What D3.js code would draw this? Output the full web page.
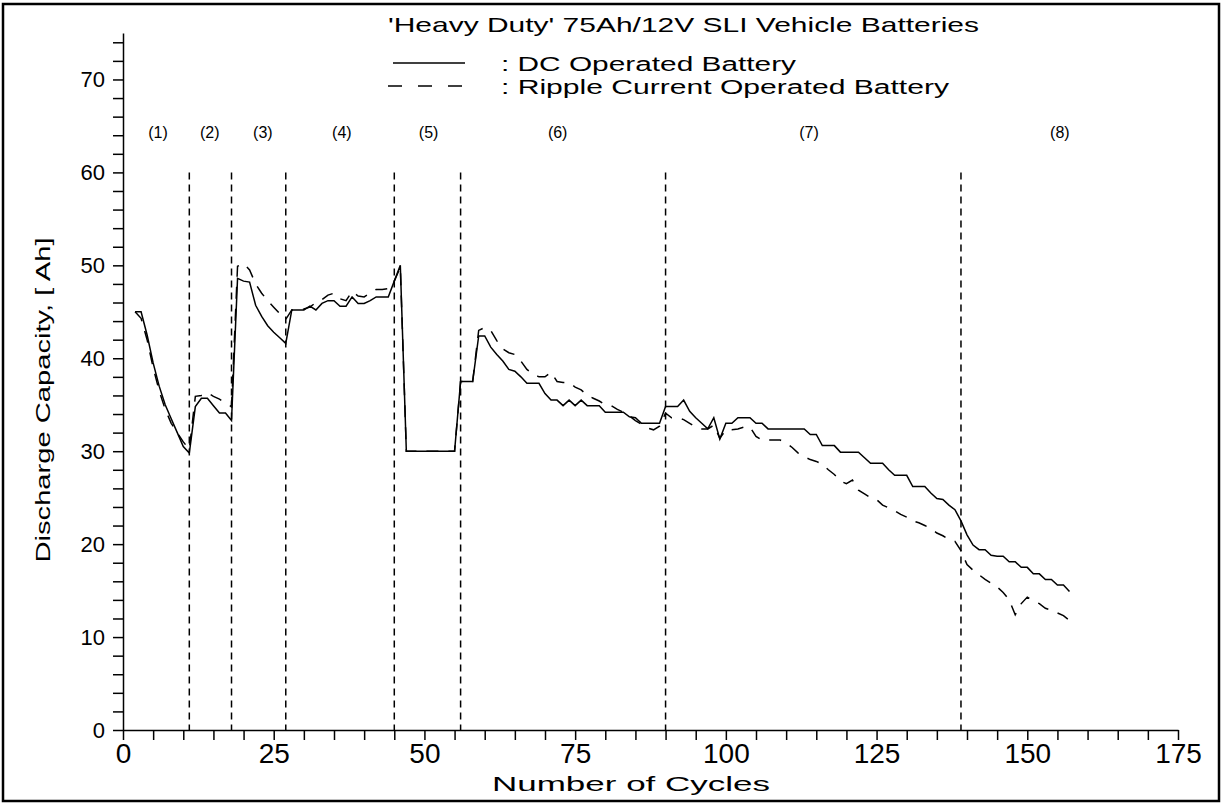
<!DOCTYPE html>
<html>
<head>
<meta charset="utf-8">
<script src="https://cdn.jsdelivr.net/npm/d3@7"></script>
<style>
  body { margin: 0; background: #fff; }
  text { font-family: "Liberation Sans", Arial, sans-serif; fill: #000; }
</style>
</head>
<body>
<div id="chart"></div>
<script>
// cycle numbers and capacities [Ah]
const cycles = d3.range(2, 158);
const dcCapacity = [
    45, 45, 42.5, 39.5, 37, 35, 33.5, 32, 30.5, 29.8,          // 2-11
    34.8, 35.7, 35.7, 34.9, 34.1, 34.1, 33.3,                  // 12-18
    48.6, 48.3, 48.2, 45.7, 44.5, 43.5, 42.8, 42.2, 41.6,      // 19-27
    45.2, 45.2, 45.2, 45.6, 45.2, 45.9, 46.2, 46.2, 45.6, 45.6,
    46.6, 45.9, 45.9, 46.2, 46.6, 46.6, 46.6, 48.3, 50,        // 28-46
    30, 30, 30, 30, 30, 30, 30, 30, 30,                        // 47-55
    37.5, 37.5, 37.5, 42.4, 42.4, 41.2, 40.4, 39.7, 38.8, 38.6,
    38, 37.3, 37.3, 37.3, 36.2, 35.5, 35.5, 34.9, 35.5, 34.9,
    35.5, 34.9, 34.9, 34.9, 34.2, 34.2, 34.2, 34.2, 33.7, 33.6,
    33, 33, 33, 33,                                            // 56-89
    34.8, 34.8, 34.8, 35.5, 34.3, 33.6, 33, 32.4, 33.6, 31.3,
    33, 33, 33.6, 33.6, 33.6, 33, 33, 32.4, 32.4, 32.4,
    32.4, 32.4, 32.4, 32.4, 31.8, 31.8, 30.6, 30.6, 30.6, 29.9,
    29.9, 29.9, 29.9, 29.3, 28.7, 28.7, 28.7, 28, 27.4, 27.4,
    27.4, 26.2, 26.2, 26.2, 25.5, 24.9, 24.8, 24.2, 23.7,      // 90-138
    22.5, 21, 19.9, 19.4, 19.4, 18.8, 18.7, 18.7, 18.1, 18.1,
    17.5, 17.5, 16.8, 16.8, 16.2, 16.2, 15.6, 15.6, 14.9       // 139-157
];
const rippleCapacity = [
    45, 44.3, 42, 39, 36.5, 34.5, 33, 32, 31, 30.2,            // 2-11
    35.9, 36, 36.3, 35.9, 35.6, 35.2, 34.8,                    // 12-18
    49.9, 50.2, 49.5, 48, 47, 46.2, 45.5, 44.8, 44.2,          // 19-27
    45.2, 45.2, 45.3, 45.5, 46, 46.3, 46.8, 47, 46.4, 46.2,
    47.2, 46.7, 46.6, 47, 47.4, 47.4, 47.5, 48.3, 49.8,        // 28-46
    30, 30, 30, 30, 30, 30, 30, 30, 30,                        // 47-55
    37.5, 37.5, 37.5, 43, 43.3, 43, 41.9, 41, 40.6, 40.4,
    39.7, 38.8, 38.3, 38, 38, 38.5, 37.5, 37.4, 37.4, 36.9,
    36.6, 36, 35.7, 35.4, 35, 34.9, 34.5, 34.2, 33.8, 33.3,
    32.9, 32.5, 32.3, 32.7,                                    // 56-89
    34.1, 33.6, 33.6, 33.4, 33, 32.6, 32.4, 32.4, 32.8, 31.4,
    32.3, 32.3, 32.4, 32.6, 32.6, 31.6, 31.2, 31.2, 31.2, 31.2,
    30.9, 30.4, 29.8, 29.4, 29.1, 28.9, 28.6, 28, 27.5, 26.8,
    26.5, 26.9, 25.8, 25.4, 25, 24.8, 24.2, 23.9, 23.6, 23.2,
    22.9, 22.5, 22.3, 22, 21.7, 21.2, 20.9, 20.5, 20.3,        // 90-138
    19.3, 17.8, 17.2, 16.7, 16.2, 15.8, 15.4, 14.8, 14, 12.4,
    13.6, 14.3, 13.9, 13.6, 13.1, 12.9, 12.6, 12.3, 11.8       // 139-157
];

// test phase boundaries and phase labels
const phaseBounds = [11, 18, 27, 45, 56, 90, 139];
const phaseNames = ["(1)", "(2)", "(3)", "(4)", "(5)", "(6)", "(7)", "(8)"];
const phaseLabelAt = [5.8, 14.4, 23.2, 36.3, 50.7, 72.1, 113.8, 155.4];

const xTicks = d3.range(0, 176, 5);
const yTicks = d3.range(0, 75, 2);

const titleText = "'Heavy Duty' 75Ah/12V SLI Vehicle Batteries";
const legendNames = [": DC Operated Battery", ": Ripple Current Operated Battery"];

const width = 1224, height = 805;

const svg = d3.select("#chart")
    .append("svg")
    .attr("width", width)
    .attr("height", height);

// frame around the whole plot
svg.append("rect")
    .attr("x", 3).attr("y", 4)
    .attr("width", 1216).attr("height", 797)
    .attr("fill", "none")
    .attr("stroke", "#000")
    .attr("stroke-width", 2.5);

const x = d3.scaleLinear().domain([0, 175]).range([123, 1178]);
const y = d3.scaleLinear().domain([0, 75]).range([730, 33]);

// axes
const xAxis = d3.axisBottom(x)
    .tickValues(xTicks)
    .tickSize(10)
    .tickSizeOuter(0)
    .tickPadding(3)
    .tickFormat((d) => (d % 25 === 0 ? d : ""));

const yAxis = d3.axisLeft(y)
    .tickValues(yTicks)
    .tickSize(10)
    .tickSizeOuter(0)
    .tickPadding(8)
    .tickFormat((d) => (d % 10 === 0 ? d : ""));

const gx = svg.append("g")
    .attr("transform", `translate(0,${y(0)})`)
    .call(xAxis);
gx.selectAll("text")
    .attr("font-family", "'Liberation Sans', sans-serif")
    .attr("font-size", 28);

const gy = svg.append("g")
    .attr("transform", `translate(${x(0)},0)`)
    .call(yAxis);
gy.selectAll("text")
    .attr("font-family", "'DejaVu Sans', sans-serif")
    .attr("font-size", 22);

svg.selectAll(".domain, .tick line")
    .attr("stroke", "#000")
    .attr("stroke-width", 1.5);

// axis titles
svg.append("text")
    .attr("x", 631)
    .attr("y", 791)
    .attr("text-anchor", "middle")
    .attr("font-size", 21)
    .attr("textLength", 278)
    .attr("lengthAdjust", "spacingAndGlyphs")
    .text("Number of Cycles");

svg.append("text")
    .attr("transform", "rotate(-90)")
    .attr("x", -400)
    .attr("y", 50)
    .attr("text-anchor", "middle")
    .attr("font-size", 21)
    .attr("textLength", 325)
    .attr("lengthAdjust", "spacingAndGlyphs")
    .text("Discharge Capacity,  [ Ah]");

// title and legend
svg.append("text")
    .attr("x", 388)
    .attr("y", 32)
    .attr("font-size", 21)
    .attr("textLength", 591)
    .attr("lengthAdjust", "spacingAndGlyphs")
    .text(titleText);

const legendDash = ["none", "14,16"];
const legendLen = [295, 448];
legendNames.forEach((name, i) => {
    const ly = 63 + i * 23;
    svg.append("line")
        .attr("x1", i === 0 ? 393 : 388).attr("x2", 465)
        .attr("y1", ly).attr("y2", ly)
        .attr("stroke", "#000")
        .attr("stroke-width", 1.5)
        .attr("stroke-dasharray", legendDash[i]);
    svg.append("text")
        .attr("x", 501)
        .attr("y", ly + 8)
        .attr("font-size", 20)
        .attr("textLength", legendLen[i])
        .attr("lengthAdjust", "spacingAndGlyphs")
        .text(name);
});

// phase separators
svg.selectAll("line.phase")
    .data(phaseBounds)
    .join("line")
    .attr("class", "phase")
    .attr("x1", (d) => x(d)).attr("x2", (d) => x(d))
    .attr("y1", y(60)).attr("y2", y(0))
    .attr("stroke", "#000")
    .attr("stroke-width", 1.5)
    .attr("stroke-dasharray", "7,5");

svg.selectAll("text.phase")
    .data(phaseNames)
    .join("text")
    .attr("class", "phase")
    .attr("x", (d, i) => x(phaseLabelAt[i]))
    .attr("y", y(64.2) + 5)
    .attr("text-anchor", "middle")
    .attr("font-size", 16)
    .text((d) => d);

// series
const line = d3.line()
    .x((d) => x(d[0]))
    .y((d) => y(d[1]));

svg.append("path")
    .datum(cycles.map((c, i) => [c, rippleCapacity[i]]))
    .attr("d", line)
    .attr("fill", "none")
    .attr("stroke", "#000")
    .attr("stroke-width", 1.5)
    .attr("stroke-dasharray", "12,10");

svg.append("path")
    .datum(cycles.map((c, i) => [c, dcCapacity[i]]))
    .attr("d", line)
    .attr("fill", "none")
    .attr("stroke", "#000")
    .attr("stroke-width", 1.5);
</script>
</body>
</html>
